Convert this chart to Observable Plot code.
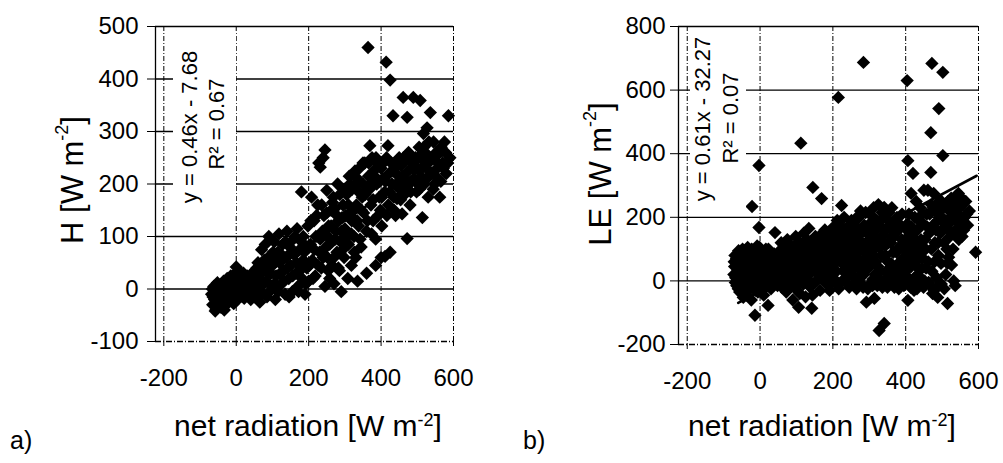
<!DOCTYPE html>
<html><head><meta charset="utf-8">
<script src="https://cdn.jsdelivr.net/npm/d3@7"></script>
<script src="https://cdn.jsdelivr.net/npm/@observablehq/plot@0.6"></script>
<style>
html,body{margin:0;padding:0;background:#fff;}
#wrap{display:flex;width:1003px;height:463px;overflow:hidden;font-family:"Liberation Sans",Arial,sans-serif;}
#wrap svg{display:block;overflow:visible;}
</style></head><body><div id="wrap"></div>
<script>
// ---- data ----
const xTicks = [-200, 0, 200, 400, 600];
const hTicks = [-100, 0, 100, 200, 300, 400, 500];
const leTicks = [-200, 0, 200, 400, 600, 800];

// panel a: net radiation vs sensible heat flux H  [Rn, H]
const pointsH = [
[-68,-10],[-65,-30],[-62,5],[-60,-20],[-58,-42],[-55,-5],[-52,12],[-50,-28],[-48,-15],[-45,0],[-42,-35],[-40,8],[-38,-22],[-35,15],[-32,-8],[-30,-30],[-28,3],[-25,20],[-22,-12],[-20,-25],[-18,5],[-15,25],[-12,-5],[-10,10],[-8,-18],[-5,0],[-2,30],[0,42],[2,15],[5,-8],[8,35],[10,5],[12,-15],[15,20],[18,0],[20,30],[25,-10],[28,10],[30,25],[35,5],
[-66,0],[-64,-15],[-57,-32],[-53,-12],[-47,5],[-44,-25],[-37,-5],[-33,-40],[-27,-18],[-24,8],[-17,-10],[-13,12],[-7,-28],[-3,18],[3,-20],[7,22],[13,-3],[17,10],[22,-18],[27,20],[33,-12],[38,18],
[40,-20],[45,15],[50,35],[55,-5],[60,50],[62,20],[65,-25],[70,75],[72,40],[75,10],[80,85],[82,55],[85,-15],[88,30],[90,100],[95,65],[98,5],[100,45],[105,90],[108,-20],[110,25],[115,70],[118,105],[120,50],[125,10],[128,85],[130,35],[135,-10],[138,60],[140,110],[145,20],[148,80],[150,45],[155,-5],[158,95],[160,65],[165,30],[168,115],[170,5],[175,75],[178,50],[180,185],[182,20],[185,100],[188,70],[190,-10],[195,40],[198,120],[200,15],
[42,0],[48,25],[52,-12],[57,40],[63,5],[67,28],[73,-8],[77,55],[83,15],[87,45],[92,-5],[96,30],[102,70],[106,10],[112,55],[116,-5],[122,30],[126,65],[132,15],[136,90],[142,40],[146,-15],[152,70],[156,25],[162,100],[166,50],[172,-5],[176,35],[180,90],[186,55],[192,10],[196,80],[202,45],
[205,85],[208,175],[210,55],[215,130],[218,25],[220,100],[225,160],[228,240],[230,70],[232,232],[235,40],[238,110],[240,250],[242,140],[245,265],[245,5],[248,80],[250,188],[252,60],[255,120],[258,20],[260,95],[262,150],[265,45],[268,175],[270,10],[272,153],[275,110],[278,70],[280,200],[282,130],[285,35],[288,90],[290,-5],[292,136],[295,160],[298,60],[300,115],[305,180],[308,20],[310,85],[312,215],[315,140],[318,45],[319,130],[320,190],[325,100],[328,225],[330,60],[332,160],[335,210],[338,120],[340,230],[345,80],[348,175],[350,200],
[206,130],[212,20],[216,75],[222,140],[226,45],[232,95],[236,160],[240,60],[246,105],[250,145],[254,35],[258,85],[262,120],[266,165],[270,60],[274,95],[278,140],[282,40],[286,180],[290,110],[294,75],[298,190],[302,140],[306,100],[310,160],[314,200],[318,105],[322,150],[326,70],[330,200],[334,130],[338,185],[342,95],[346,150],[350,240],[335,15],[360,30],[385,45],[400,60],
[352,145],[355,240],[360,110],[364,460],[365,215],[368,190],[369,273],[372,160],[375,250],[378,130],[380,225],[385,95],[388,200],[390,240],[395,175],[398,150],[400,230],[402,120],[405,210],[410,185],[411,62],[414,432],[415,250],[419,273],[420,160],[422,220],[425,398],[425,70],[428,240],[430,200],[433,330],[435,175],[438,230],[440,140],[444,172],[448,215],[450,250],[452,190],[455,235],[458,143],[460,210],[461,365],[465,180],[468,245],[472,327],[472,96],[475,225],[478,200],[480,160],[485,240],[489,365],[490,210],[495,250],[498,185],[500,230],[505,270],[508,359],[510,215],[514,136],[515,245],[517,296],[520,200],[522,260],[525,230],[527,307],[530,175],[533,250],[536,336],[540,220],[545,280],[548,200],[550,245],[555,230],[560,260],[562,175],[565,205],[570,240],[575,280],[580,220],[586,330],[590,250],
[356,180],[362,130],[366,240],[370,200],[374,105],[378,170],[382,215],[386,250],[392,140],[396,205],[402,175],[406,240],[412,205],[416,140],[424,185],[432,225],[436,150],[442,200],[446,245],[454,170],[458,215],[462,250],[470,195],[476,260],[482,185],[488,230],[494,205],[502,250],[506,190],[512,230],[518,270],[526,210],[532,280],[538,245],[544,190],[552,260],[558,210],[566,270],[572,230],[578,260],[584,240]
];

// panel b: net radiation vs latent heat flux LE  [Rn, LE]
const pointsLE = [
[-72,20],[-70,45],[-68,-5],[-65,70],[-62,30],[-60,-25],[-58,90],[-55,10],[-52,55],[-50,-40],[-48,100],[-46,-52],[-45,35],[-42,75],[-40,-10],[-38,5],[-36,60],[-34,105],[-32,-30],[-30,40],[-28,85],[-26,15],[-24,-60],[-22,234],[-22,55],[-20,95],[-18,-20],[-16,30],[-14,-108],[-14,70],[-12,0],[-10,50],[-8,110],[-6,-35],[-4,20],[-3,363],[-3,168],[-2,80],[0,40],[2,-15],[4,95],[6,60],[8,5],[10,-45],[12,75],[14,30],[16,100],[18,-5],[20,55],[22,-77],[25,15],[28,85],[30,-25],[32,45],[35,70],[38,-5],[40,20],[41,152],[45,55],[48,-15],[50,90],
[-71,60],[-69,80],[-67,10],[-64,-15],[-61,50],[-59,95],[-56,-35],[-54,30],[-51,75],[-49,15],[-47,-20],[-44,55],[-41,95],[-39,25],[-37,-45],[-35,45],[-33,80],[-31,5],[-29,-15],[-27,65],[-25,35],[-23,100],[-21,-5],[-19,70],[-17,15],[-15,50],[-13,-30],[-11,85],[-9,25],[-7,60],[-5,-10],[-1,105],[1,15],[3,65],[5,-30],[7,35],[9,85],[11,10],[13,55],[15,-20],[17,75],[19,30],[21,5],[23,100],[26,40],[29,60],[31,10],[34,-15],[36,30],[39,85],[43,5],[46,40],[49,65],
[55,30],[58,120],[60,-20],[62,65],[65,5],[68,100],[70,40],[72,-35],[75,130],[78,75],[80,15],[82,-10],[85,110],[88,50],[90,-60],[92,85],[95,20],[98,140],[100,60],[102,-30],[105,95],[106,-83],[108,35],[110,120],[112,433],[115,5],[118,75],[120,150],[122,45],[125,-50],[128,100],[130,15],[134,165],[135,60],[138,-20],[140,125],[142,-86],[145,294],[145,35],[148,90],[150,-5],[152,140],[155,55],[158,110],[160,20],[162,75],[165,-30],[168,130],[169,259],[170,45],[172,95],[175,5],[178,160],[180,60],[182,115],[185,25],[188,80],[190,-15],[192,140],[195,50],[198,100],[200,10],[202,170],[205,65],[208,125],[210,30],[212,190],[215,577],[215,85],[218,-10],[220,145],[224,237],[225,55],[228,110],[230,5],[232,160],[235,75],[238,130],[240,20],[242,95],[245,-20],[248,150],[250,60],[251,190],
[52,10],[54,45],[57,-10],[59,85],[61,25],[64,50],[67,-5],[69,70],[71,15],[74,95],[77,35],[79,-20],[81,60],[84,25],[86,85],[89,0],[91,40],[94,110],[96,65],[99,-15],[101,35],[104,75],[107,15],[109,-40],[111,60],[114,90],[116,30],[119,-10],[121,110],[124,65],[126,20],[129,130],[131,45],[133,85],[136,0],[139,105],[141,55],[144,-45],[146,70],[149,120],[151,30],[154,90],[156,0],[159,60],[161,135],[164,100],[166,15],[169,80],[171,150],[174,30],[176,120],[179,-5],[181,85],[184,140],[186,50],[189,115],[191,-30],[194,75],[196,160],[199,35],[201,130],[204,90],[206,0],[209,155],[211,60],[214,110],[216,-25],[219,175],[221,85],[226,130],[229,30],[231,200],[234,100],[236,-5],[239,165],[241,55],[244,120],[247,35],[249,180],
[255,115],[258,10],[260,175],[262,80],[265,-25],[268,130],[270,45],[272,200],[275,-5],[278,100],[280,160],[284,687],[285,20],[288,70],[290,215],[292,-67],[295,125],[298,40],[300,212],[302,-10],[305,90],[308,165],[310,5],[312,230],[314,-55],[315,135],[318,60],[320,190],[322,-15],[325,240],[327,-156],[328,105],[330,30],[332,170],[335,215],[338,0],[340,145],[341,231],[341,-134],[345,80],[348,195],[350,-20],[352,120],[355,10],[358,165],[360,55],[362,230],[365,-10],[368,140],[370,25],[372,185],[375,90],[378,-5],[380,160],[382,45],[385,110],[388,0],[390,210],[392,70],[395,-15],[398,130],[400,30],[404,630],[405,180],[406,378],[406,-61],[408,85],[410,5],[412,150],[415,275],[415,45],[418,110],[420,338],[420,-10],[423,-30],[425,200],[428,60],[430,15],[432,160],[435,95],[438,-5],[440,230],[442,130],[445,40],[448,180],[450,285],
[253,90],[256,150],[259,40],[261,-10],[264,110],[266,200],[269,70],[271,15],[274,150],[276,220],[279,45],[281,120],[283,-20],[286,175],[289,90],[291,35],[294,150],[296,-25],[299,100],[301,180],[304,55],[306,130],[309,-15],[311,200],[313,80],[316,20],[319,160],[321,110],[324,45],[326,185],[329,0],[331,130],[334,80],[336,-20],[339,200],[343,110],[346,30],[349,165],[351,60],[354,215],[356,-10],[359,120],[361,180],[364,40],[366,90],[369,-20],[371,150],[374,15],[376,200],[379,100],[381,-25],[384,60],[386,175],[389,130],[391,30],[394,100],[396,-5],[399,165],[401,55],[403,120],[407,10],[409,210],[411,90],[414,-20],[416,170],[419,60],[421,135],[424,10],[426,90],[429,250],[431,-25],[434,40],[436,190],[439,120],[441,10],[444,75],[446,210],[449,-20],
[452,0],[455,100],[458,210],[461,285],[462,60],[465,150],[468,-15],[469,466],[469,341],[470,240],[472,684],[472,30],[475,175],[477,275],[478,-30],[480,120],[482,220],[485,10],[488,-52],[488,190],[490,80],[491,542],[492,250],[495,150],[496,253],[498,-10],[500,200],[502,656],[502,394],[505,120],[508,240],[510,20],[512,175],[515,55],[515,-71],[518,74],[520,220],[522,140],[525,260],[528,190],[530,100],[532,0],[535,230],[538,160],[540,270],[543,212],[545,275],[548,180],[551,263],[555,140],[559,159],[562,200],[565,250],[570,175],[575,220],[592,90],
[453,130],[456,40],[459,170],[463,-5],[466,210],[471,100],[474,-40],[476,230],[479,60],[483,160],[486,-20],[489,120],[493,200],[497,55],[499,160],[503,230],[506,-25],[509,180],[513,100],[516,250],[519,160],[523,200],[526,50],[529,240],[533,150],[536,-15],[539,200],[542,250],[546,130],[549,230],[553,190],[557,240],[561,180],[568,210]
];

// trendlines as printed on the chart
const fitH  = {slope: 0.46, intercept: -7.68,  xFrom: -70, xTo: 585, eq: "y = 0.46x - 7.68",  r2: "R² = 0.67"};
const fitLE = {slope: 0.61, intercept: -32.27, xFrom: -60, xTo: 595, eq: "y = 0.61x - 32.27", r2: "R² = 0.07"};

const FONT = '"Liberation Sans", Arial, Helvetica, sans-serif';

function panel(o) {
  const yMin = o.yTicks[0], yMax = o.yTicks[o.yTicks.length - 1];
  const line = [o.fit.xFrom, o.fit.xTo].map(x => ({x, y: o.fit.slope * x + o.fit.intercept}));
  const svg = Plot.plot({
    width: o.width, height: 463,
    marginLeft: o.ml, marginRight: o.mr, marginTop: 26, marginBottom: o.mb,
    style: {fontFamily: FONT, fontSize: "24px", color: "#000", background: "transparent", overflow: "visible"},
    x: {domain: [o.xMin, 600]},
    y: {domain: [yMin, yMax]},
    marks: [
      Plot.ruleX(xTicks, {stroke: "#000", strokeWidth: 1, strokeDasharray: "5,2,1,2"}),
      Plot.ruleY(o.yTicks.slice(1), {stroke: "#000", strokeWidth: 1.3}),
      Plot.ruleY([yMin], {stroke: "#000", strokeWidth: 1.3, strokeDasharray: "6,2,1,2"}),
      Plot.ruleX([o.xMin], {stroke: "#000", strokeWidth: 1.3}),
      Plot.axisY({ticks: o.yTicks, tickSize: 8, tickPadding: o.yPad, label: null, fontSize: 24, tickFormat: d => String(d)}),
      Plot.axisX({ticks: xTicks, tickSize: 5, tickPadding: 22, label: null, fontSize: 24, tickFormat: d => String(d)}),
      Plot.dot(o.points, {x: d => d[0], y: d => d[1], symbol: "diamond2", r: 6, fill: "#000", stroke: "none"}),
      Plot.line(line, {x: "x", y: "y", stroke: "#000", strokeWidth: 2.6})
    ]
  });
  const s = d3.select(svg).style("overflow", "visible");
  // trendline label box
  s.append("rect").attr("x", o.box[0]).attr("y", o.box[1]).attr("width", o.box[2]).attr("height", o.box[3]).attr("fill", "#fff");
  const ann = (txt, cx, cy) => s.append("text").attr("transform", `translate(${cx},${cy}) rotate(-90)`)
    .attr("text-anchor", "middle").attr("dominant-baseline", "central")
    .attr("font-family", FONT).attr("font-size", 22).attr("fill", "#000").text(txt);
  ann(o.fit.eq, o.eqPos[0], o.eqPos[1]);
  ann(o.fit.r2, o.r2Pos[0], o.r2Pos[1]);
  // y-axis title
  const yt = s.append("text").attr("transform", `translate(${o.yTitle[0]},${o.yTitle[1]}) rotate(-90)`)
    .attr("text-anchor", "middle").attr("dominant-baseline", "central")
    .attr("font-family", FONT).attr("font-size", 31).attr("fill", "#000");
  yt.append("tspan").text(o.yName + " [W m");
  yt.append("tspan").attr("baseline-shift", "super").attr("font-size", 18).text("-2");
  yt.append("tspan").text("]");
  // x-axis title
  const xt = s.append("text").attr("x", o.xTitle[0]).attr("y", o.xTitle[1])
    .attr("text-anchor", "middle").attr("font-family", FONT).attr("font-size", 30).attr("fill", "#000");
  xt.append("tspan").text("net radiation [W m");
  xt.append("tspan").attr("baseline-shift", "super").attr("font-size", 18).text("-2");
  xt.append("tspan").text("]");
  // panel letter
  s.append("text").attr("x", o.letter).attr("y", 449).attr("text-anchor", "start")
    .attr("font-family", FONT).attr("font-size", 25).attr("fill", "#000").text(o.letterText);
  return svg;
}

const wrap = document.getElementById("wrap");
wrap.append(panel({
  width: 490, ml: 155, mr: 37, mb: 122, xMin: -223, yTicks: hTicks, yPad: 9,
  points: pointsH, fit: fitH, yName: "H",
  box: [173, 32, 63, 183], eqPos: [189, 127], r2Pos: [216, 124],
  yTitle: [72, 180], xTitle: [308, 436], letter: 10, letterText: "a)"
}));
wrap.append(panel({
  width: 513, ml: 188, mr: 25, mb: 119, xMin: -224, yTicks: leTicks, yPad: 5,
  points: pointsLE, fit: fitLE, yName: "LE",
  box: [200, 28, 56, 184], eqPos: [212, 119], r2Pos: [240, 118],
  yTitle: [110, 174], xTitle: [332, 436], letter: 33, letterText: "b)"
}));
</script></body></html>
